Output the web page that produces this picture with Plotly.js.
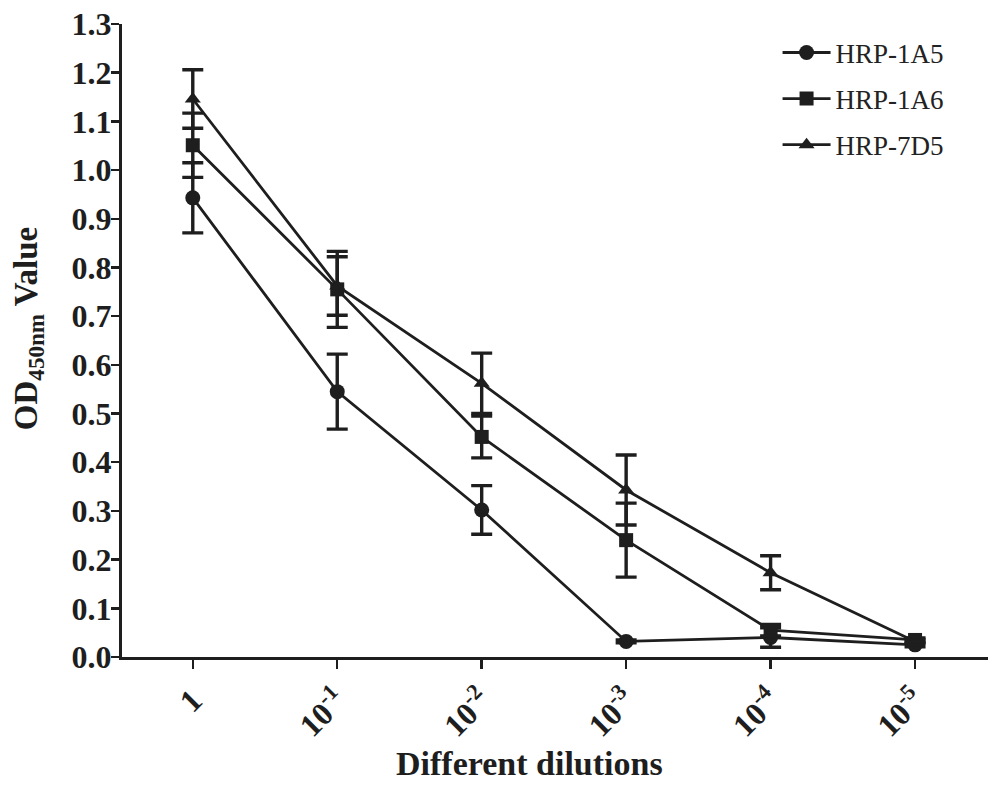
<!DOCTYPE html>
<html>
<head>
<meta charset="utf-8">
<script src="https://cdn.plot.ly/plotly-3.0.1.min.js"></script>
<style>html,body{margin:0;padding:0;background:#fff;}#chart{width:992px;height:787px;}</style>
</head>
<body>
<div id="chart"></div>
<script>
const categories = ["1", "1e-1", "1e-2", "1e-3", "1e-4", "1e-5"];
const tickLabels = ["1", "10<sup>-1</sup>", "10<sup>-2</sup>", "10<sup>-3</sup>", "10<sup>-4</sup>", "10<sup>-5</sup>"];
const xTitle = "Different dilutions";
const yTitle = "OD<sub>450nm</sub> Value";

const seriesNames = ["HRP-1A5", "HRP-1A6", "HRP-7D5"];
const hrp1A5 = [0.943, 0.545, 0.302, 0.032, 0.040, 0.025];
const hrp1A5Err = [0.072, 0.077, 0.050, 0.003, 0.020, 0.004];
const hrp1A6 = [1.051, 0.755, 0.452, 0.240, 0.055, 0.035];
const hrp1A6Err = [0.066, 0.078, 0.043, 0.076, 0.012, 0.004];
const hrp7D5 = [1.146, 0.762, 0.562, 0.343, 0.173, 0.032];
const hrp7D5Err = [0.060, 0.060, 0.062, 0.072, 0.035, 0.004];

const symbols = ["circle", "square", "triangle-up"];
const markerSizes = [15, 14, 14];
const yData = [hrp1A5, hrp1A6, hrp7D5];
const errData = [hrp1A5Err, hrp1A6Err, hrp7D5Err];

const black = "#1e1e1e";
const serif = "Liberation Serif, Times New Roman, serif";
const traces = seriesNames.map((name, i) => ({
  type: "scatter",
  mode: "lines+markers",
  name: name,
  legendgroup: "g" + i,
  x: categories.map((c, k) => k),
  y: yData[i],
  error_y: {type: "data", array: errData[i], visible: true, color: black, thickness: 3.4, width: 10.5},
  line: {color: black, width: 2.8},
  marker: {symbol: symbols[i], size: markerSizes[i], color: black}
}));

const layout = {
  width: 992, height: 787,
  margin: {l: 122, r: 4, t: 24, b: 130},
  paper_bgcolor: "#fff", plot_bgcolor: "#fff",
  showlegend: true,
  legend: {
    x: 0.757, y: 0.993, xanchor: "left", yanchor: "top",
    font: {family: serif, size: 27, color: "#222"},
    bgcolor: "rgba(0,0,0,0)", tracegroupgap: 8, traceorder: "grouped",
    itemwidth: 48
  },
  xaxis: {
    range: [-0.49, 5.505],
    tickmode: "array",
    tickvals: categories.map((c, k) => k),
    ticktext: tickLabels,
    tickangle: -45,
    ticks: "outside", ticklen: 9, tickwidth: 2.5, tickcolor: black,
    showline: true, linecolor: black, linewidth: 3,
    showgrid: false, zeroline: false,
    tickfont: {family: serif, size: 32, color: black, weight: "bold"}
  },
  yaxis: {
    range: [0, 1.3],
    tickmode: "linear", tick0: 0, dtick: 0.1, tickformat: ".1f",
    ticks: "outside", ticklen: 8, tickwidth: 2.5, tickcolor: black,
    ticklabelstandoff: -7,
    showline: true, linecolor: black, linewidth: 3,
    showgrid: false, zeroline: false,
    tickfont: {family: serif, size: 32, color: black, weight: "bold"}
  },
  annotations: [
    {text: "<b>" + xTitle + "</b>", xref: "paper", yref: "paper", x: 0.471, y: -0.169,
     xanchor: "center", yanchor: "middle", showarrow: false,
     font: {family: serif, size: 34, color: black}},
    {text: "<b>" + yTitle + "</b>", xref: "paper", yref: "paper", x: -0.1085, y: 0.518,
     xanchor: "center", yanchor: "middle", textangle: -90, showarrow: false,
     font: {family: serif, size: 33, color: black}}
  ]
};

Plotly.newPlot("chart", traces, layout, {displayModeBar: false, staticPlot: true});
</script>
</body>
</html>
